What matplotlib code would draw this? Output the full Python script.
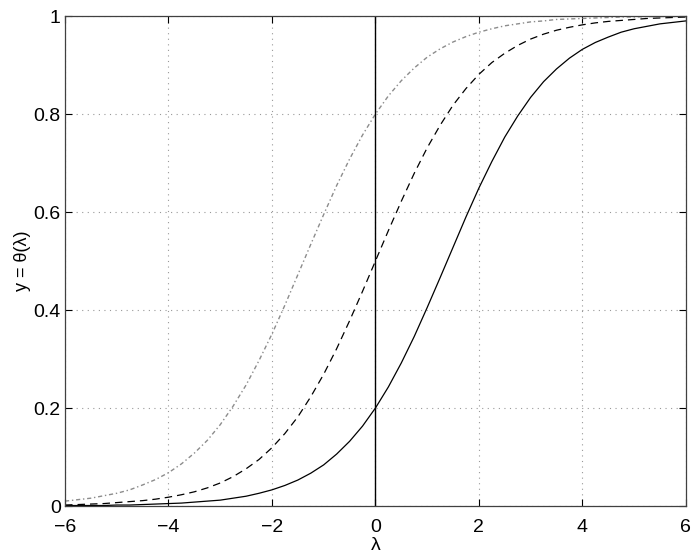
import numpy as np
import matplotlib.pyplot as plt

# lambda values (read every 0.25)
lam = [-6.0, -5.75, -5.5, -5.25, -5.0, -4.75, -4.5, -4.25, -4.0, -3.75, -3.5, -3.25,
       -3.0, -2.75, -2.5, -2.25, -2.0, -1.75, -1.5, -1.25, -1.0, -0.75, -0.5, -0.25,
       0.0, 0.25, 0.5, 0.75, 1.0, 1.25, 1.5, 1.75, 2.0, 2.25, 2.5, 2.75,
       3.0, 3.25, 3.5, 3.75, 4.0, 4.25, 4.5, 4.75, 5.0, 5.25, 5.5, 5.75, 6.0]

# solid curve, y(0) = 0.2
y_solid = [0.001, 0.001, 0.001, 0.001, 0.002, 0.002, 0.003, 0.004, 0.005, 0.006,
           0.008, 0.010, 0.012, 0.016, 0.020, 0.026, 0.033, 0.042, 0.053, 0.067,
           0.084, 0.106, 0.132, 0.163, 0.200, 0.243, 0.292, 0.346, 0.405, 0.466,
           0.528, 0.590, 0.649, 0.703, 0.753, 0.796, 0.834, 0.866, 0.892, 0.914,
           0.932, 0.946, 0.957, 0.967, 0.974, 0.979, 0.984, 0.987, 0.990]
# dashed curve, y(0) = 0.5
y_dashed = [0.002, 0.003, 0.004, 0.005, 0.007, 0.009, 0.011, 0.014, 0.018, 0.023,
            0.029, 0.037, 0.047, 0.060, 0.076, 0.095, 0.119, 0.148, 0.182, 0.223,
            0.269, 0.321, 0.378, 0.438, 0.500, 0.562, 0.622, 0.679, 0.731, 0.777,
            0.818, 0.852, 0.881, 0.905, 0.924, 0.940, 0.953, 0.963, 0.971, 0.977,
            0.982, 0.986, 0.989, 0.991, 0.993, 0.995, 0.996, 0.997, 0.998]
# dotted curve, y(0) = 0.8
y_dotted = [0.010, 0.013, 0.016, 0.021, 0.026, 0.033, 0.043, 0.054, 0.068, 0.086,
            0.108, 0.134, 0.166, 0.204, 0.247, 0.297, 0.351, 0.410, 0.472, 0.534,
            0.595, 0.654, 0.708, 0.757, 0.800, 0.837, 0.868, 0.894, 0.916, 0.933,
            0.947, 0.958, 0.967, 0.974, 0.980, 0.984, 0.988, 0.990, 0.993, 0.994,
            0.995, 0.996, 0.997, 0.998, 0.998, 0.999, 0.999, 0.999, 0.999]

xticks = [-6, -4, -2, 0, 2, 4, 6]
yticks = [0, 0.2, 0.4, 0.6, 0.8, 1]
ytick_labels = ['0', '0.2', '0.4', '0.6', '0.8', '1']

plt.rcParams['font.family'] = ['Liberation Sans', 'DejaVu Sans']

fig = plt.figure(figsize=(6.97, 5.60), dpi=100)
ax = fig.add_axes([0.0933, 0.0964, 0.8907, 0.8750])

ax.plot(lam, y_dotted, color='0.55', lw=1.0, linestyle=(0, (3, 2, 1, 2)))
ax.plot(lam, y_dashed, color='black', lw=0.9, linestyle=(0, (6, 4)))
ax.plot(lam, y_solid, color='black', lw=0.9)
ax.axvline(0, color='black', lw=1.0)

ax.set_xlim(-6, 6)
ax.set_ylim(0, 1)
ax.set_xticks(xticks)
ax.set_xticklabels(['\u2212%d' % -t if t < 0 else str(t) for t in xticks])
ax.set_yticks(yticks)
ax.set_yticklabels(ytick_labels)
ax.grid(True, color='0.6', linestyle=(0, (1, 4)), lw=0.8)
ax.tick_params(direction='in', length=5, labelsize=14, pad=3, top=True, right=True)
ax.tick_params(axis='x', pad=9)
for s in ax.spines.values():
    s.set_linewidth(0.9)
    s.set_color('0.25')

ax.set_xlabel('\u03bb', fontsize=14, labelpad=1)
ax.set_ylabel('y = \u03b8(\u03bb)', fontsize=13, labelpad=2)

fig.savefig('out.png', dpi=100)
plt.close()
